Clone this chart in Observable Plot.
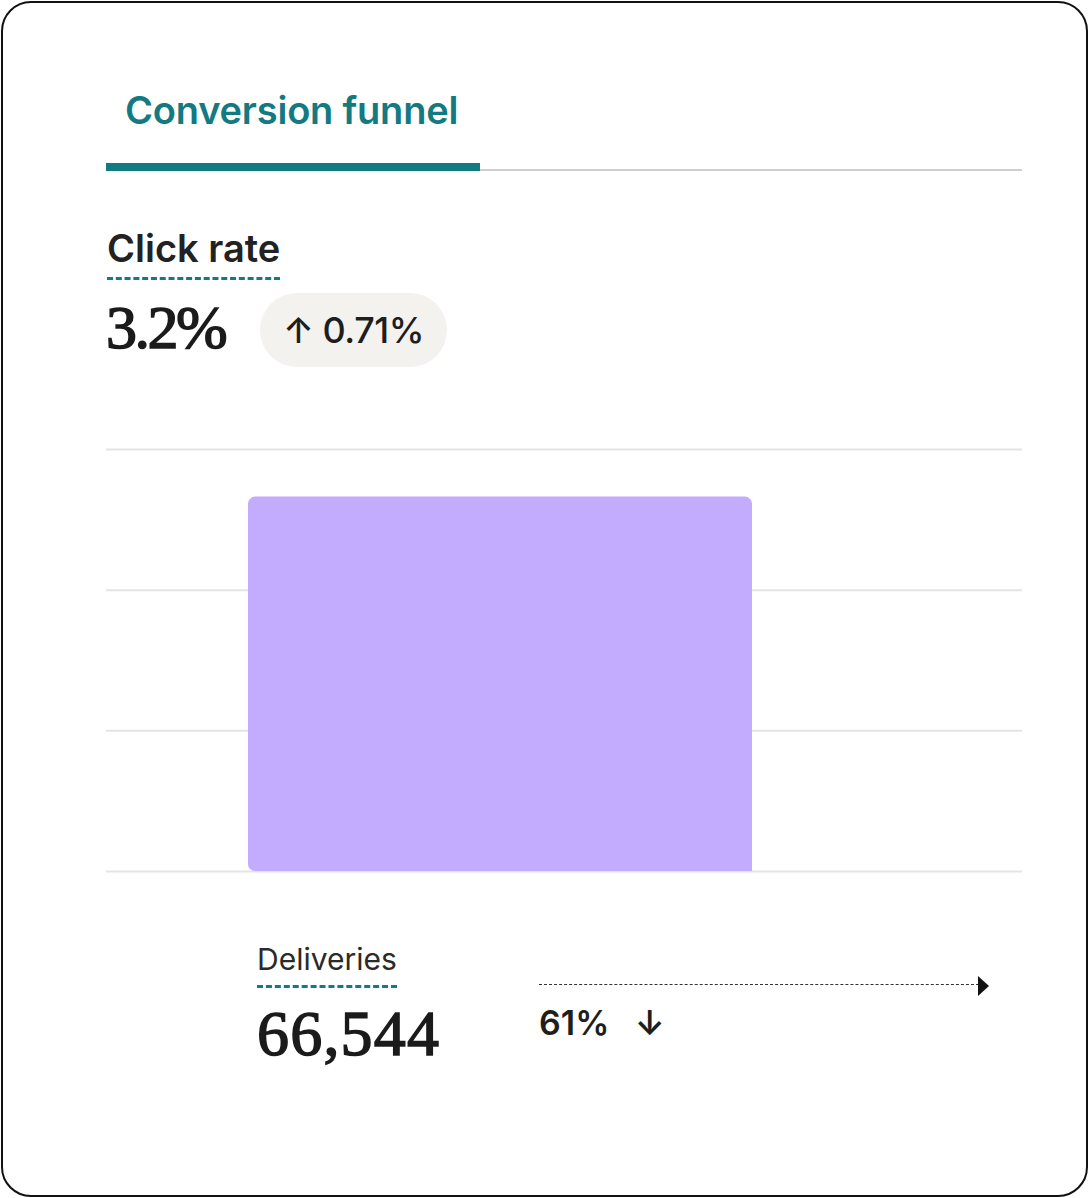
<!DOCTYPE html>
<html>
<head>
<meta charset="utf-8">
<script src="https://cdn.jsdelivr.net/npm/d3@7"></script>
<script src="https://cdn.jsdelivr.net/npm/@observablehq/plot@0.6"></script>
<style>
  html, body { margin: 0; padding: 0; background: #fff; }
  body { width: 1089px; height: 1198px; position: relative; overflow: hidden; font-family: Inter, "Noto Sans", sans-serif; }
  .card { position: absolute; left: 1px; top: 1px; width: 1083px; height: 1192px; border: 2px solid #111; border-radius: 30px; }
  .abs { position: absolute; white-space: nowrap; }
  .tab { left: 125px; top: 87px; font-size: 38px; font-weight: 600; color: #137a81; letter-spacing: -0.2px; }
  .tabbar { left: 106px; top: 163px; width: 374px; height: 8px; background: #137a81; }
  .tabline { left: 480px; top: 169px; width: 542px; height: 2px; background: #cfcfcf; }
  .label { color: #222; border-bottom: 3px dashed #137a81; padding-bottom: 6px; }
  .metric { font-family: "Liberation Serif", "DejaVu Serif", serif; color: #1b1b1b; font-weight: 400; -webkit-text-stroke: 1.5px #1b1b1b; }
  .pill { left: 260px; top: 293px; width: 187px; height: 74px; border-radius: 37px; background: #f3f2ef; display: flex; align-items: center; justify-content: center; font-size: 36px; font-weight: 500; color: #1e1e1e; letter-spacing: -0.5px; }
  #chart { position: absolute; left: 106px; top: 430px; }
  .arrow { left: 539px; top: 984px; width: 440px; height: 0; border-top: 1.5px dashed #333; }
  .head { left: 978px; top: 976px; width: 0; height: 0; border-top: 10px solid transparent; border-bottom: 10px solid transparent; border-left: 11px solid #111; }
  .drop { left: 539px; top: 1002px; font-size: 34px; font-weight: 600; color: #1e1e1e; }
</style>
</head>
<body>
<div class="card"></div>
<div id="root"></div>
<div id="chart"></div>
<script>
// ---- data ----
const tabTitle = "Conversion funnel";
const metricLabel = "Click rate";
const metricValue = "3.2%";
const metricChange = "↑ 0.71%";
const stages = ["Deliveries"];
const stageValues = [66544];
const stageDrop = ["61% ↓"];
const yTicks = [0, 25000, 50000, 75000];

const root = document.getElementById("root");
function add(cls, text, style) {
  const d = document.createElement("div");
  d.className = "abs " + cls;
  if (text != null) d.textContent = text;
  if (style) Object.assign(d.style, style);
  root.appendChild(d);
  return d;
}
add("tab", tabTitle);
add("tabbar");
add("tabline");
add("label", metricLabel, {left: "107px", top: "225px", fontSize: "38px", fontWeight: "600", paddingBottom: "6px"});
add("metric", metricValue, {left: "106px", top: "292px", fontSize: "62px", letterSpacing: "-2.5px"});
add("pill", metricChange);

const data = stages.map((s, i) => ({stage: s, value: stageValues[i]}));

const chart = Plot.plot({
  width: 916,
  height: 451,
  marginLeft: 0,
  marginRight: 0,
  marginTop: 19,
  marginBottom: 10,
  x: {domain: stages, paddingInner: 0, paddingOuter: 0.4087, align: 0.345, axis: null},
  y: {domain: [0, 75000], axis: null},
  marks: [
    Plot.ruleY(yTicks, {stroke: "#e4e4e4", strokeWidth: 2}),
    Plot.barY(data, {x: "stage", y: "value", fill: "#c3acfd", ry1: 7, rx1: 7})
  ]
});
document.getElementById("chart").appendChild(chart);

// stage annotation below the bar
add("label", stages[0], {left: "257px", top: "941px", fontSize: "30px", fontWeight: "400", color: "#2a2a2a", paddingBottom: "8px"});
add("metric", d3.format(",")(stageValues[0]), {left: "257px", top: "997px", fontSize: "64px", letterSpacing: "1.2px"});
add("arrow");
add("head");
add("drop", stageDrop[0].replace(" ", "\u2002\u00a0"));
</script>
</body>
</html>
